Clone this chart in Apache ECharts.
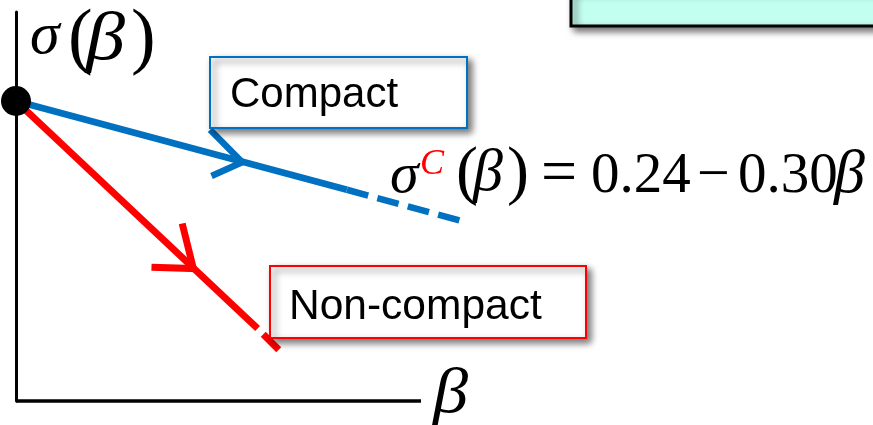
<!DOCTYPE html>
<html>
<head>
<meta charset="utf-8">
<title>σ(β)</title>
<script src="https://cdn.jsdelivr.net/npm/echarts@6/dist/echarts.min.js"></script>
<style>
  html, body { margin: 0; padding: 0; background: #ffffff; }
  #chart { width: 873px; height: 425px; }
</style>
</head>
<body>
<div id="chart"></div>
<script>
// Starting point σ(0) shared by both branches
const startPoint = [0, 0.24];

// Compact branch: σ^C(β) = 0.24 − 0.30β (solid part, then dashed extension)
const compactBeta = [0, 0.237, 0.319];
const compactSigma = [0.240, 0.169, 0.144];

// Non-compact branch (solid part, then dashed extension)
const nonCompactBeta = [0, 0.173, 0.189];
const nonCompactSigma = [0.240, 0.058, 0.040];

// Direction chevrons drawn on each branch: [arm, tip, arm]
const compactArrow = [[0.139, 0.217], [0.162, 0.191], [0.140, 0.180]];
const nonCompactArrow = [[0.119, 0.142], [0.127, 0.106], [0.097, 0.107]];

// Visible length of the β axis, and the plotting ranges
const betaAxisEnd = 0.29;
const betaMax = 0.3251;
const sigmaMax = 0.3112;

const BLUE = '#0070C0';
const RED = '#FF0000';

function pairs(xs, ys, from, to) {
  const out = [];
  for (let i = from; i <= to; i++) out.push([xs[i], ys[i]]);
  return out;
}

const chart = echarts.init(document.getElementById('chart'), null, { renderer: 'canvas' });

const serif = '"Liberation Serif", "DejaVu Serif", serif';
const sans = '"Liberation Sans", Arial, sans-serif';
const boxShadow = { shadowBlur: 7, shadowOffsetX: 4, shadowOffsetY: 4, shadowColor: 'rgba(0,0,0,0.55)' };

function lineSeries(data, color, width, dash, offset) {
  return {
    type: 'line',
    data: data,
    symbol: 'none',
    clip: false,
    silent: true,
    z: 3,
    lineStyle: {
      color: color,
      width: width,
      type: dash || 'solid',
      dashOffset: offset || 0,
      cap: 'butt',
      join: 'miter'
    }
  };
}

// Plain text piece; y is the vertical centre used by zrender's 'middle' alignment
function txt(str, x, y, font, color, sx) {
  return {
    type: 'text', z: 11, x: x, y: y, scaleX: sx || 1,
    style: { text: str, font: font, fill: color || '#000', verticalAlign: 'middle' }
  };
}

chart.setOption({
  animation: false,
  grid: { left: 16, top: 12, width: 454, height: 389, containLabel: false },
  xAxis: {
    type: 'value', min: 0, max: betaMax,
    axisLine: { show: false },
    axisTick: { show: false }, axisLabel: { show: false }, splitLine: { show: false }
  },
  yAxis: {
    type: 'value', min: 0, max: sigmaMax,
    axisLine: { show: true, onZero: false, lineStyle: { color: '#000', width: 3 } },
    axisTick: { show: false }, axisLabel: { show: false }, splitLine: { show: false }
  },
  series: [
    // β axis
    lineSeries([[0, 0], [betaAxisEnd, 0]], '#000', 3.5),
    lineSeries(pairs(compactBeta, compactSigma, 0, 1), BLUE, 6.5),
    lineSeries(pairs(compactBeta, compactSigma, 1, 2), BLUE, 6.5, [22, 9.5]),
    lineSeries(compactArrow, BLUE, 6.5),
    lineSeries(pairs(nonCompactBeta, nonCompactSigma, 0, 1), RED, 7),
    lineSeries(pairs(nonCompactBeta, nonCompactSigma, 1, 2), RED, 7, [22, 8], 22),
    lineSeries(nonCompactArrow, RED, 7),
    {
      type: 'scatter',
      data: [startPoint],
      symbol: 'circle',
      symbolSize: 30,
      clip: false,
      silent: true,
      z: 5,
      itemStyle: { color: '#000', opacity: 1 }
    }
  ],
  graphic: [
    // Callout boxes
    {
      type: 'rect', z: 10,
      shape: { x: 571, y: -10, width: 320, height: 36 },
      style: Object.assign({ fill: '#C3FFF0', stroke: '#000', lineWidth: 3 }, boxShadow)
    },
    {
      type: 'rect', z: 10,
      shape: { x: 210, y: 57, width: 257, height: 71 },
      style: Object.assign({ fill: '#fff', stroke: BLUE, lineWidth: 2 }, boxShadow)
    },
    txt('Compact', 230, 95, '42px ' + sans),
    {
      type: 'rect', z: 10,
      shape: { x: 270, y: 266, width: 316, height: 72 },
      style: Object.assign({ fill: '#fff', stroke: RED, lineWidth: 2 }, boxShadow)
    },
    txt('Non-compact', 289, 307, '42.5px ' + sans),

    // Axis names
    txt('σ', 30, 37, 'italic 60px ' + serif),
    txt('(', 68, 41, '74px ' + serif),
    txt('β', 86, 41, 'italic 68px ' + serif, '#000', 1.15),
    txt(')', 131, 41, '74px ' + serif),
    txt('β', 433, 395, 'italic 64px ' + serif, '#000', 1.1),

    // Formula of the compact branch
    txt('σ', 390, 177, 'italic 58px ' + serif),
    txt('C', 420, 165, 'italic 36px ' + serif, RED),
    txt('(', 456, 175, '66px ' + serif),
    txt('β', 473, 174, 'italic 60px ' + serif),
    txt(')', 507, 175, '66px ' + serif),
    txt('=', 541, 175.5, '64px ' + serif),
    txt('0.24', 591, 177.5, '57px ' + serif),
    txt('−', 697, 177, '58px ' + serif),
    txt('0.30', 738, 177.5, '57px ' + serif),
    txt('β', 834, 176, 'italic 62px ' + serif)
  ]
});
</script>
</body>
</html>
